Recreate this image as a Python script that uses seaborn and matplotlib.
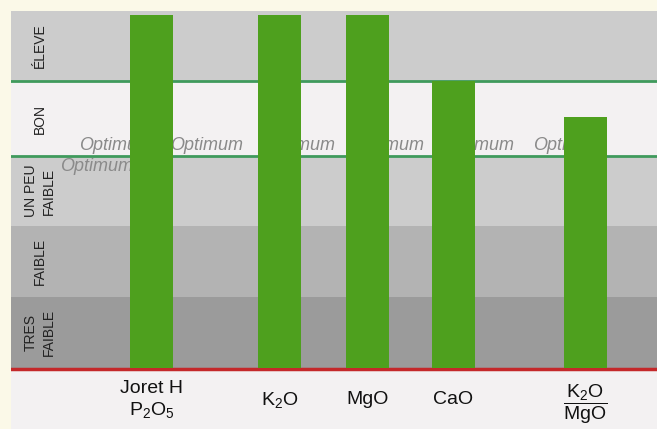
import numpy as np
import matplotlib.pyplot as plt
import pandas as pd
import seaborn as sns

plt.rcParams['font.family'] = ['Liberation Sans', 'DejaVu Sans']
plt.rcParams['mathtext.fontset'] = 'custom'
plt.rcParams['mathtext.rm'] = 'Liberation Sans'
plt.rcParams['mathtext.it'] = 'Liberation Sans:italic'

# categories and bar heights (scale: 0 = bottom red line, band top = 357)
labels = ['Joret H\nP$_2$O$_5$', 'K$_2$O', 'MgO', 'CaO',
          r'$\dfrac{\mathrm{K_2O}}{\mathrm{MgO}}$']
values = [353, 353, 353, 287, 251]
xpos = [151.5, 279.5, 367.5, 453.5, 585.5]

# level bands
bands = ['TRES\nFAIBLE', 'FAIBLE', 'UN PEU\nFAIBLE', 'BON', 'ÉLEVE']
band_edges = [0, 71, 142, 212, 287, 357]
band_colors = ['#9b9b9b', '#b3b3b3', '#cccccc', '#f3f1f2', '#cccccc']

# "Optimum" watermark positions
opt_x = [79, 170, 262, 351, 441, 533]
opt_x2 = [60]

fig = plt.figure(figsize=(6.57, 4.29), dpi=100, facecolor='#fbf9e8')
ax = fig.add_axes([11/657, 0, 646/657, 418/429])
ax.set_facecolor('#f3f1f2')

for i in range(len(bands)):
    ax.axhspan(band_edges[i], band_edges[i+1], color=band_colors[i], lw=0, zorder=0)
    mid = (band_edges[i] + band_edges[i+1]) / 2
    ax.text(40, mid, bands[i], rotation=90, ha='center', va='center',
            fontsize=10, color='#222222', linespacing=1.35,
            multialignment='center', zorder=1)

ax.axhline(band_edges[3], color='#3f9a5c', lw=2, zorder=1.5)
ax.axhline(band_edges[4], color='#3f9a5c', lw=2, zorder=1.5)
ax.axhline(-0.5, color='#c4282a', lw=2.5, zorder=1.5)

for x in opt_x:
    ax.text(x, 218, 'Optimum', fontsize=13, style='italic', color='#8a8a8a', zorder=1)
for x in opt_x2:
    ax.text(x, 197, 'Optimum', fontsize=13, style='italic', color='#8a8a8a', zorder=1)

df = pd.DataFrame({'x': xpos, 'y': values})
sns.barplot(data=df, x='x', y='y', native_scale=True, width=0.5,
            color='#4ea01e', saturation=1, ax=ax, zorder=3)

for x, lab in zip(xpos, labels):
    yy = -36 if lab.startswith('$') else -32
    ax.text(x, yy, lab, ha='center', va='center', fontsize=14,
            color='#111111', linespacing=1.2, multialignment='center')

ax.set_xlim(11, 657)
ax.set_ylim(-61, 357)
ax.set_xlabel('')
ax.set_ylabel('')
ax.set_xticks([])
ax.set_yticks([])
for s in ax.spines.values():
    s.set_visible(False)

fig.savefig('out.png', dpi=100, facecolor=fig.get_facecolor())
